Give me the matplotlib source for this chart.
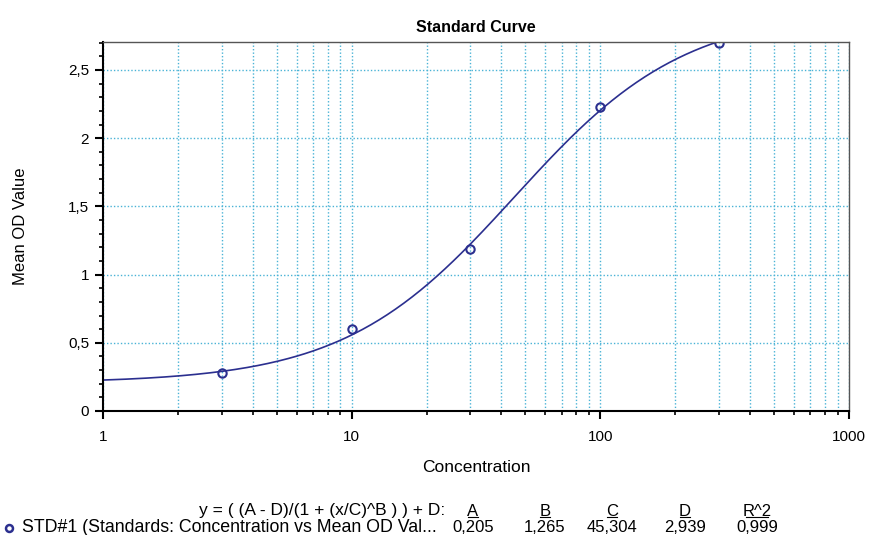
import numpy as np
import matplotlib.pyplot as plt
from matplotlib.ticker import FuncFormatter, MultipleLocator, LogLocator

plt.rcParams['font.family'] = ['Liberation Sans', 'DejaVu Sans']

# standards (concentration vs mean OD)
conc = [3, 10, 30, 100, 300]
mean_od = [0.28, 0.60, 1.19, 2.23, 2.70]

# 4PL fit parameters
param_names = ['A', 'B', 'C', 'D', 'R^2']
param_vals = [0.205, 1.265, 45.304, 2.939, 0.999]
A, B, C, D = param_vals[:4]

navy = '#2b2f8f'
grid_col = '#4ab3d6'

fig = plt.figure(figsize=(8.7, 5.35), dpi=100)
ax = fig.add_axes([103/870, 1 - 411/535, (849 - 103)/870, (411 - 42)/535])

# fitted curve, from 1 to the last standard
xs = np.logspace(0, np.log10(conc[-1]), 300)
ys = (A - D) / (1 + (xs / C) ** B) + D
ax.plot(xs, ys, color=navy, lw=1.2)
ax.plot(conc, mean_od, 'o', mfc='none', mec=navy, mew=1.5, ms=6)

ax.set_xscale('log')
ax.set_xlim(1, 1000)
ax.set_ylim(0, 2.705)
ax.xaxis.set_major_locator(LogLocator(base=10))
ax.xaxis.set_minor_locator(LogLocator(base=10, subs=np.arange(2, 10)))
ax.yaxis.set_major_locator(MultipleLocator(0.5))
ax.yaxis.set_minor_locator(MultipleLocator(0.1))

def comma_fmt(v, pos):
    s = ('%g' % v).replace('.', ',')
    return s
ax.yaxis.set_major_formatter(FuncFormatter(comma_fmt))
ax.xaxis.set_major_formatter(FuncFormatter(lambda v, p: '%d' % v))

ax.grid(True, which='both', axis='x', color=grid_col, ls=(0, (1, 1.5)), lw=1)
ax.grid(True, which='major', axis='y', color=grid_col, ls=(0, (1, 1.5)), lw=1)

for s in ['top', 'right']:
    ax.spines[s].set_color('#555555')
    ax.spines[s].set_linewidth(1)
for s in ['left', 'bottom']:
    ax.spines[s].set_linewidth(1.5)
ax.tick_params(which='major', length=6, width=1.5, labelsize=11, colors='black', pad=4)
ax.tick_params(which='minor', length=3, width=1.2)
ax.tick_params(axis='x', which='major', pad=8)

ax.set_title('Standard Curve', fontsize=11.5, fontweight='bold', pad=7)
ax.set_xlabel('Concentration', fontsize=12.5, labelpad=11)
ax.set_ylabel('Mean OD Value', fontsize=12, labelpad=29)

# equation / parameter table under the chart
row1 = 1 - 511/535
row2 = 1 - 528/535
fig.text(445/870, row1, 'y = ( (A - D)/(1 + (x/C)^B ) ) + D:',
         ha='right', va='center', fontsize=12.5)
col_x = [473, 545, 612, 685, 757]
for cx, name, val in zip(col_x, param_names, param_vals):
    fig.text(cx/870, row1, name, ha='center', va='center', fontsize=12)
    w = 5 if len(name) == 1 else 11
    fig.add_artist(plt.Line2D([(cx - w)/870, (cx + w)/870], [1 - 516.5/535, 1 - 516.5/535],
                              color='black', lw=0.8))
    txt = ('%.3f' % val).replace('.', ',')
    fig.text(cx/870, row2, txt, ha='center', va='center', fontsize=12)
fig.add_artist(plt.Line2D([9/870], [row2], marker='o', mfc='none', mec=navy,
                          mew=1.8, ms=5))
fig.text(22/870, row2, 'STD#1 (Standards: Concentration vs Mean OD Val...',
         ha='left', va='center', fontsize=12.8)

fig.savefig('out.png', dpi=100, facecolor='white')
